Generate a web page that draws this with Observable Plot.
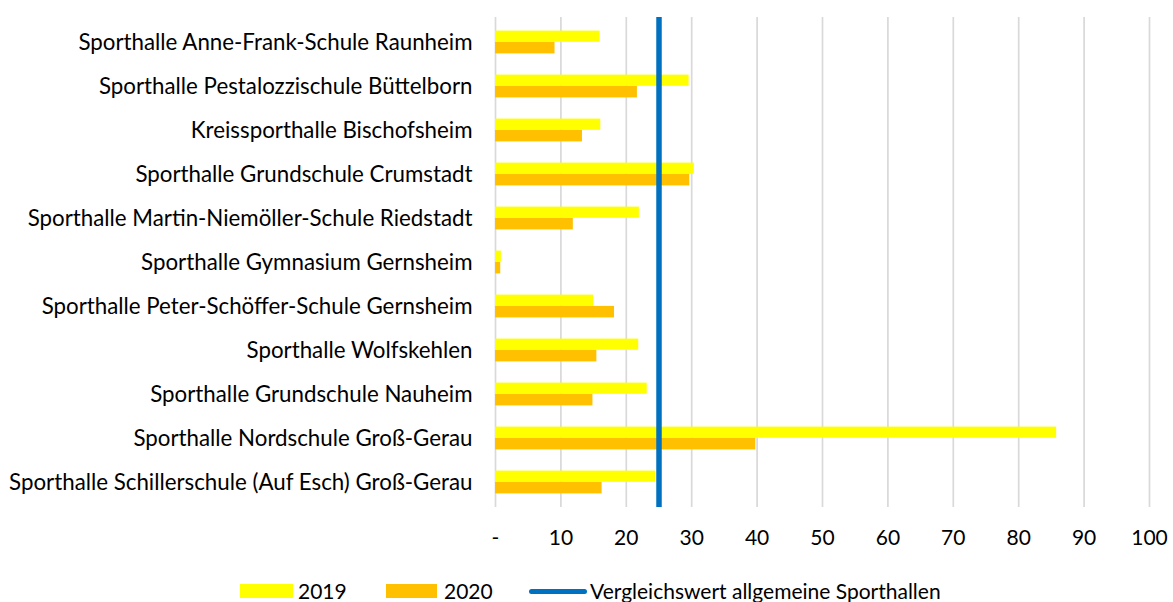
<!DOCTYPE html>
<html><head><meta charset="utf-8">
<script src="https://cdn.jsdelivr.net/npm/d3@7"></script>
<script src="https://cdn.jsdelivr.net/npm/@observablehq/plot@0.6"></script>
<style>
body{margin:0;background:#fff;font-family:Lato,sans-serif;}
#chart svg{display:block;}
#chart g[aria-label="y-axis tick label"]{font-size:22.3px;}
#legend{position:relative;height:42px;font-size:21px;color:#000;}
#legend .sw{position:absolute;top:24px;height:14px;}
#legend .tx{position:absolute;top:18px;line-height:26px;white-space:nowrap;}
#legend .ln{position:absolute;top:29px;height:4.5px;border-radius:3px;}
</style></head><body><div id="chart"></div><div id="legend"></div>
<script>
const categories = [
  "Sporthalle Anne-Frank-Schule Raunheim",
  "Sporthalle Pestalozzischule Büttelborn",
  "Kreissporthalle Bischofsheim",
  "Sporthalle Grundschule Crumstadt",
  "Sporthalle Martin-Niemöller-Schule Riedstadt",
  "Sporthalle Gymnasium Gernsheim",
  "Sporthalle Peter-Schöffer-Schule Gernsheim",
  "Sporthalle Wolfskehlen",
  "Sporthalle Grundschule Nauheim",
  "Sporthalle Nordschule Groß-Gerau",
  "Sporthalle Schillerschule (Auf Esch) Groß-Gerau"
];
const values2019 = [16.0, 29.6, 16.1, 30.4, 22.0, 0.9, 15.0, 21.9, 23.2, 85.8, 24.5];
const values2020 = [9.1, 21.7, 13.3, 29.7, 11.9, 0.8, 18.2, 15.5, 14.9, 39.8, 16.3];
const seriesNames = ["2019", "2020"];
const seriesColors = ["#FFFF00", "#FFC000"];
const referenceValue = 25;
const referenceLabel = "Vergleichswert allgemeine Sporthallen";
const referenceColor = "#0070C0";
const xTicks = [0, 10, 20, 30, 40, 50, 60, 70, 80, 90, 100];

const data = categories.map((c, i) => ({category: c, v2019: values2019[i], v2020: values2020[i]}));

const plot = Plot.plot({
  width: 1173, height: 560,
  marginTop: 17, marginBottom: 53, marginLeft: 495, marginRight: 24,
  style: {fontFamily: "Lato, sans-serif", fontSize: "21px", color: "#000", background: "#fff", overflow: "visible"},
  x: {domain: [0, 100], ticks: xTicks, tickFormat: d => d === 0 ? "-" : String(d), tickSize: 0, tickPadding: 23, label: null},
  y: {domain: categories, padding: 0, tickSize: 0, tickPadding: 23, label: null},
  marks: [
    Plot.ruleX(xTicks, {stroke: "#d9d9d9", strokeWidth: 1.7}),
    Plot.barX(data, {y: "category", x: "v2019", fill: seriesColors[0], insetTop: 10.6, insetBottom: 22.2}),
    Plot.barX(data, {y: "category", x: "v2020", fill: seriesColors[1], insetTop: 21.9, insetBottom: 10.6}),
    Plot.ruleX([referenceValue], {stroke: referenceColor, strokeWidth: 5.5})
  ]
});
document.getElementById("chart").appendChild(plot);

const lg = document.getElementById("legend");
function add(cls, left, width, style, text) {
  const el = document.createElement("div");
  el.className = cls;
  el.style.left = left + "px";
  if (width != null) el.style.width = width + "px";
  if (style) el.style.background = style;
  if (text) el.textContent = text;
  lg.appendChild(el);
}
add("sw", 240, 53, seriesColors[0]);
add("tx", 298, null, null, seriesNames[0]);
add("sw", 386, 51, seriesColors[1]);
add("tx", 444, null, null, seriesNames[1]);
add("ln", 529, 58, referenceColor);
add("tx", 590, null, null, referenceLabel);
</script></body></html>
